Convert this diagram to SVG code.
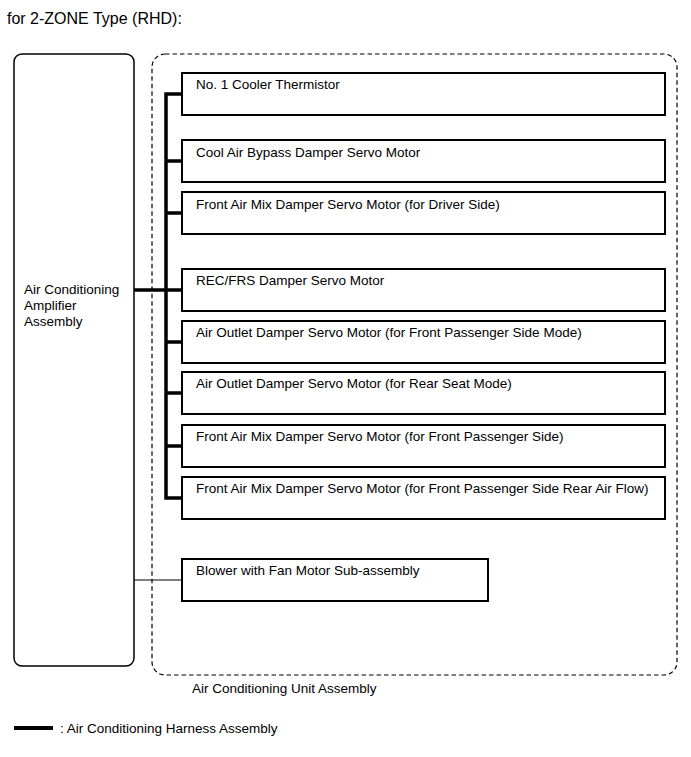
<svg xmlns="http://www.w3.org/2000/svg" width="691" height="757" viewBox="0 0 691 757">
<style>
text{font-family:"Liberation Sans",Arial,sans-serif;font-size:13.5px;fill:#000}
.box{fill:#fff;stroke:#000;stroke-width:2}
.harness{fill:none;stroke:#000;stroke-width:3.5;stroke-linejoin:miter}
.thin{fill:none;stroke:#000;stroke-width:1}
</style>
<rect width="691" height="757" fill="#fff"/>
<text x="7" y="24" style="font-size:16px">for 2-ZONE Type (RHD):</text>

<g id="unit-assembly">
<rect x="152" y="54" width="525" height="621" rx="13" ry="13" fill="none" stroke="#000" stroke-width="1.2" stroke-dasharray="4.5,3"/>
<text x="192" y="693">Air Conditioning Unit Assembly</text>
</g>

<g id="amplifier">
<rect x="14" y="54" width="120" height="612" rx="8" ry="8" fill="#fff" stroke="#000" stroke-width="1.5"/>
<text x="24" y="294">Air Conditioning</text>
<text x="24" y="310">Amplifier</text>
<text x="24" y="326">Assembly</text>
</g>

<g id="connectors">
<path class="harness" d="M182 94 H166 V498 H182"/>
<path class="harness" d="M166 161 H182 M166 213 H182 M134 290 H182 M166 342 H182 M166 393 H182 M166 446 H182"/>
<path class="thin" d="M134 580 H182"/>
</g>

<g id="n1"><rect class="box" x="182" y="73" width="483" height="42"/><text x="196" y="89">No. 1 Cooler Thermistor</text></g>
<g id="n2"><rect class="box" x="182" y="140" width="483" height="42"/><text x="196" y="157">Cool Air Bypass Damper Servo Motor</text></g>
<g id="n3"><rect class="box" x="182" y="192" width="483" height="42"/><text x="196" y="209">Front Air Mix Damper Servo Motor (for Driver Side)</text></g>
<g id="n4"><rect class="box" x="182" y="269" width="483" height="42"/><text x="196" y="285">REC/FRS Damper Servo Motor</text></g>
<g id="n5"><rect class="box" x="182" y="321" width="483" height="42"/><text x="196" y="337">Air Outlet Damper Servo Motor (for Front Passenger Side Mode)</text></g>
<g id="n6"><rect class="box" x="182" y="372" width="483" height="42"/><text x="196" y="388">Air Outlet Damper Servo Motor (for Rear Seat Mode)</text></g>
<g id="n7"><rect class="box" x="182" y="425" width="483" height="42"/><text x="196" y="441">Front Air Mix Damper Servo Motor (for Front Passenger Side)</text></g>
<g id="n8"><rect class="box" x="182" y="477" width="483" height="42"/><text x="196" y="493">Front Air Mix Damper Servo Motor (for Front Passenger Side Rear Air Flow)</text></g>
<g id="blower"><rect class="box" x="182" y="559" width="306" height="42"/><text x="196" y="575">Blower with Fan Motor Sub-assembly</text></g>

<g id="legend">
<line x1="14" y1="728" x2="53" y2="728" stroke="#000" stroke-width="4"/>
<text x="60" y="733">: Air Conditioning Harness Assembly</text>
</g>
</svg>
